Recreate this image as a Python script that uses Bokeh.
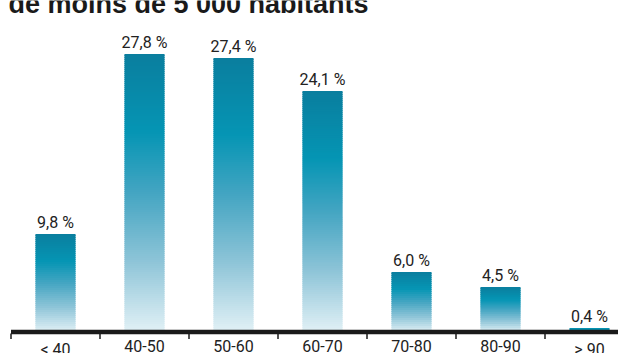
from bokeh.plotting import figure
from bokeh.models import Range1d, GlobalInlineStyleSheet
from bokeh.core.properties import value
from bokeh.embed import file_html
from bokeh.resources import INLINE
import numpy as np

title = "de moins de 5 000 habitants"
categories = ["< 40", "40-50", "50-60", "60-70", "70-80", "80-90", "> 90"]
values = [9.8, 27.8, 27.4, 24.1, 6.0, 4.5, 0.4]
labels = ["9,8 %", "27,8 %", "27,4 %", "24,1 %", "6,0 %", "4,5 %", "0,4 %"]

# gradient stops: fraction of bar height from bottom -> colour
stop_pos = [0.0, 0.25, 0.5, 0.72, 1.0]
stop_rgb = [(226, 241, 246), (143, 197, 216), (68, 165, 194), (5, 149, 180), (10, 126, 158)]

def grad_color(f):
    r = np.interp(f, stop_pos, [c[0] for c in stop_rgb])
    g = np.interp(f, stop_pos, [c[1] for c in stop_rgb])
    b = np.interp(f, stop_pos, [c[2] for c in stop_rgb])
    return "#%02x%02x%02x" % (int(round(r)), int(round(g)), int(round(b)))

W, H = 618, 353
n = len(categories)
xs = np.arange(n)
bar_w = 0.45
px_per_cat = 89.0
px_per_unit = 10.0
left_px = 10.5      # pixel of first category boundary
zero_px = 331.6     # pixel row of value 0

x_start = -0.5 - left_px / px_per_cat
x_end = x_start + W / px_per_cat
y_start = -(H - zero_px) / px_per_unit
y_end = y_start + H / px_per_unit

def px_y(py):
    return (zero_px - py) / px_per_unit

def px_x(px):
    return x_start + px / px_per_cat

p = figure(width=W, height=H, output_backend="svg", toolbar_location=None,
           x_range=Range1d(x_start, x_end), y_range=Range1d(y_start, y_end),
           min_border=0, x_axis_location=None, y_axis_location=None)
p.stylesheets = [GlobalInlineStyleSheet(css="html, body { margin: 0; padding: 0; overflow: hidden; }")]
p.outline_line_color = None
p.grid.visible = False
p.background_fill_color = "white"
p.border_fill_color = "white"

# gradient bars built from thin overlapping slices (~2 px each)
L, R, B, T, C = [], [], [], [], []
for x, v in zip(xs, values):
    N = max(1, int(v * px_per_unit / 2))
    edges = np.linspace(0, v, N + 1)
    for i in range(N):
        L.append(x - bar_w / 2)
        R.append(x + bar_w / 2)
        B.append(edges[i])
        T.append(min(v, edges[i + 1] + 0.12))
        C.append(grad_color((i + 0.5) / N) if N > 1 else grad_color(0.9))
p.quad(left=L, right=R, bottom=B, top=T, fill_color=C, line_color=None)

# value labels
p.text(x=xs, y=values, text=labels, text_align="center", text_baseline="alphabetic",
       y_offset=-12, text_font=value("Roboto"), text_font_size="16px",
       text_color="#222222")

# baseline band
p.segment(x0=[-0.5], x1=[x_end], y0=[0], y1=[0], line_color="#1a1a1a", line_width=4.5)

# boundary ticks below the band
bounds = np.arange(n + 1) - 0.5
p.segment(x0=bounds, x1=bounds, y0=px_y(333), y1=px_y(338.5),
          line_color="#1a1a1a", line_width=1.5)

# category labels (cropped at the bottom edge in the reference)
p.text(x=xs, y=px_y(339.5), text=categories, text_align="center", text_baseline="top",
       text_font=value("Roboto"), text_font_size="16px", text_color="#222222")

# title (cropped at the top edge in the reference)
p.text(x=[px_x(8)], y=[px_y(3)], text=[title], text_align="left", text_baseline="alphabetic",
       text_font=value("Liberation Sans"), text_font_style="bold",
       text_font_size="27px", text_color="#1a1a1a")

open("out.html", "w").write(file_html(p, INLINE))
